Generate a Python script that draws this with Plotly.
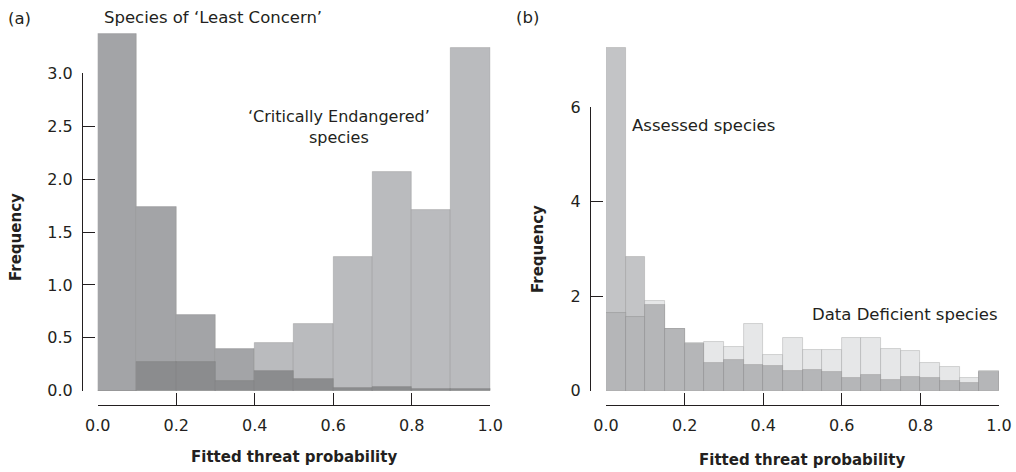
import numpy as np
import plotly.graph_objects as go

# ---------------- data ----------------
# panel (a): 10 bins of width 0.1
bins_a_left = [0.0, 0.1, 0.2, 0.3, 0.4, 0.5, 0.6, 0.7, 0.8, 0.9]
bin_w_a = 0.1
least_concern = [3.37, 1.74, 0.72, 0.39, 0.19, 0.11, 0.03, 0.035, 0.02, 0.015]
critically_endangered = [0.0, 0.27, 0.27, 0.09, 0.45, 0.63, 1.26, 2.07, 1.71, 3.24]

# panel (b): 20 bins of width 0.05
bins_b_left = [0.0, 0.05, 0.1, 0.15, 0.2, 0.25, 0.3, 0.35, 0.4, 0.45,
               0.5, 0.55, 0.6, 0.65, 0.7, 0.75, 0.8, 0.85, 0.9, 0.95]
bin_w_b = 0.05
assessed = [7.26, 2.84, 1.82, 1.31, 0.99, 0.59, 0.66, 0.55, 0.515, 0.42,
            0.445, 0.40, 0.27, 0.34, 0.23, 0.30, 0.28, 0.21, 0.16, 0.40]
data_deficient = [1.64, 1.57, 1.90, 1.30, 1.02, 1.04, 0.92, 1.42, 0.755, 1.12,
                  0.87, 0.87, 1.12, 1.12, 0.88, 0.84, 0.58, 0.50, 0.26, 0.42]

yticks_a = [0.0, 0.5, 1.0, 1.5, 2.0, 2.5, 3.0]
yticks_b = [0, 2, 4, 6]
xticks = [0.0, 0.2, 0.4, 0.6, 0.8, 1.0]

# ---------------- figure ----------------
W, H = 1016, 472
def px(x):
    return x / W
def py(y):
    return 1 - y / H

FONT = "DejaVu Sans"
TXT = "#231f20"

fig = go.Figure()

def add_hist(left, w, s1, s2, c1, c2, cov, xa, ya):
    s1 = np.array(s1); s2 = np.array(s2)
    for vals, col in ((s1, c1), (s2, c2), (np.minimum(s1, s2), cov)):
        fig.add_trace(go.Bar(
            x=left, y=vals, width=w, offset=0,
            marker=dict(color=col, line=dict(color="rgba(120,120,122,0.35)", width=0.8)),
            xaxis=xa, yaxis=ya, showlegend=False, hoverinfo="skip"))

add_hist(bins_a_left, bin_w_a, least_concern, critically_endangered,
         "#a3a4a7", "#babbbe", "#8b8c8e", "x", "y")
add_hist(bins_b_left, bin_w_b, assessed, data_deficient,
         "#c3c4c6", "#e6e7e8", "#b5b6b8", "x2", "y2")

# invisible traces to attach display y axes
fig.add_trace(go.Scatter(x=[None], y=[None], xaxis="x", yaxis="y3", showlegend=False))
fig.add_trace(go.Scatter(x=[None], y=[None], xaxis="x2", yaxis="y4", showlegend=False))

y0 = 390.7
xa_common = dict(range=[0, 1], tickvals=xticks, tickformat=".1f", ticks="inside", ticklen=12,
                 showline=True, linecolor=TXT, linewidth=1, tickcolor=TXT, tickwidth=1,
                 showgrid=False, zeroline=False, anchor="free", position=py(405),
                 tickfont=dict(family=FONT, size=16, color=TXT), ticklabelstandoff=6,
                 fixedrange=True, automargin=False)
ya_hidden = dict(visible=False, showgrid=False, zeroline=False, fixedrange=True, automargin=False)
ya_vis = dict(ticks="inside", ticklen=12, showline=True, linecolor=TXT, linewidth=1,
              tickcolor=TXT, tickwidth=1, showgrid=False, zeroline=False, anchor="free",
              tickfont=dict(family=FONT, size=16, color=TXT), ticklabelstandoff=6,
              fixedrange=True, automargin=False)

fig.update_layout(
    template="none",
    width=W, height=H, margin=dict(l=0, r=0, t=0, b=0, pad=0, autoexpand=False),
    paper_bgcolor="white", plot_bgcolor="rgba(0,0,0,0)",
    barmode="overlay", bargap=0, showlegend=False,
    xaxis=dict(domain=[px(97.7), px(490.3)], **xa_common),
    xaxis2=dict(domain=[px(606), px(999)], **xa_common),
    yaxis=dict(domain=[py(y0), py(y0 - 3.4 * 105.8)], range=[0, 3.4], anchor="x", **ya_hidden),
    yaxis2=dict(domain=[py(y0), py(y0 - 7.28 * 47.22)], range=[0, 7.28], anchor="x2", **ya_hidden),
    yaxis3=dict(domain=[py(y0), py(73.3)], range=[0, 3], tickvals=yticks_a, tickformat=".1f",
                position=px(82), **ya_vis),
    yaxis4=dict(domain=[py(y0), py(107.3)], range=[0, 6], tickvals=yticks_b,
                position=px(590), **ya_vis),
)

def ann(text, x, y, size=16.5, bold=False, angle=0, xanchor="center", align="center"):
    fig.add_annotation(text=f"<b>{text}</b>" if bold else text, x=px(x), y=py(y),
                       xref="paper", yref="paper", showarrow=False, textangle=angle,
                       xanchor=xanchor, yanchor="middle", align=align,
                       font=dict(family=FONT, size=size, color=TXT))

ann("(a)", 19, 18)
ann("(b)", 527, 17)
ann("Species of ‘Least Concern’", 102, 17, xanchor="left")
ann("‘Critically Endangered’<br>species", 339, 127, size=16)
ann("Assessed species", 630, 126, xanchor="left")
ann("Data Deficient species", 810, 314, xanchor="left")
ann("Frequency", 16, 237, size=15, bold=True, angle=-90)
ann("Frequency", 538, 249, size=15, bold=True, angle=-90)
ann("Fitted threat probability", 294, 457, size=15, bold=True)
ann("Fitted threat probability", 802, 460, size=15, bold=True)

fig.write_html("out.html", config={"displayModeBar": False},
               post_script="document.body.style.margin='0';document.body.style.overflow='hidden';")
